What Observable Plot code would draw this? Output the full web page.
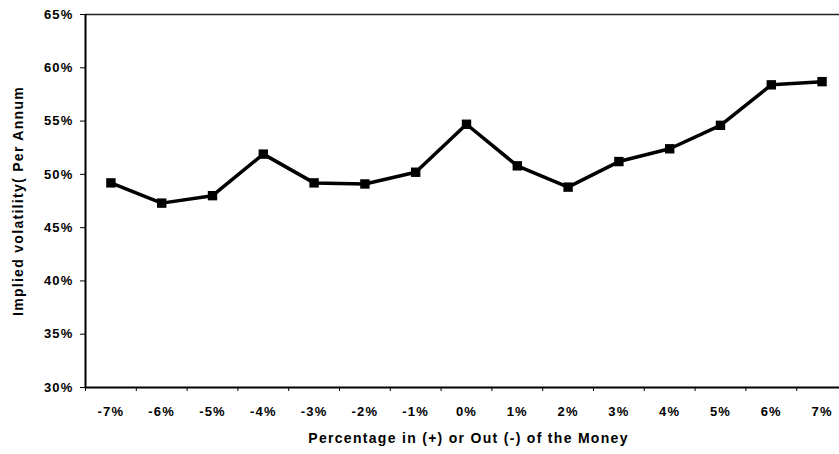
<!DOCTYPE html>
<html>
<head>
<meta charset="utf-8">
<script src="https://cdn.jsdelivr.net/npm/d3@7"></script>
<script src="https://cdn.jsdelivr.net/npm/@observablehq/plot@0.6"></script>
<style>
  html, body { margin: 0; padding: 0; background: #fff; }
</style>
</head>
<body>
<div id="chart"></div>
<script>
// Moneyness (% in (+) or out (-) of the money)
const moneyness = [-7, -6, -5, -4, -3, -2, -1, 0, 1, 2, 3, 4, 5, 6, 7];
// Implied volatility (% per annum)
const impliedVol = [49.2, 47.3, 48.0, 51.9, 49.2, 49.1, 50.2, 54.7, 50.8, 48.8, 51.2, 52.4, 54.6, 58.4, 58.7];
// Y tick values
const yTicks = [30, 35, 40, 45, 50, 55, 60, 65];
const xTitle = "Percentage in (+) or Out (-) of the Money";
const yTitle = "Implied volatility( Per Annum";

const data = moneyness.map((m, i) => ({m, v: impliedVol[i]}));
const bandEdges = moneyness.map(m => m - 0.5);

const chart = Plot.plot({
  width: 839,
  height: 454,
  marginLeft: 85,
  marginRight: 0,
  marginTop: 14,
  marginBottom: 67,
  style: {fontFamily: "'Liberation Sans', Arial, sans-serif", fontSize: "13px", fontWeight: "bold", letterSpacing: "1.2px", color: "#000", background: "#fff"},
  x: {domain: [-7.5, 7.343]},
  y: {domain: [30, 65]},
  marks: [
    Plot.axisY({ticks: yTicks, tickFormat: d => d + "%", tickSize: 5, tickPadding: 7, label: null, strokeWidth: 1, fontSize: 13}),
    Plot.axisX({ticks: bandEdges, tickFormat: () => "", tickSize: 4, label: null}),
    Plot.axisX({ticks: moneyness, tickFormat: d => d + "%", tickSize: 0, tickPadding: 19, label: null, fontSize: 13}),
    Plot.ruleY([65], {stroke: "#222", strokeWidth: 1.5}),
    Plot.ruleY([30], {stroke: "#000", strokeWidth: 2}),
    Plot.ruleX([-7.5], {stroke: "#000", strokeWidth: 2}),
    Plot.line(data, {x: "m", y: "v", stroke: "#000", strokeWidth: 3.5}),
    Plot.dot(data, {x: "m", y: "v", symbol: "square", r: 5.3, fill: "#000", stroke: "none"}),
    Plot.text([xTitle], {frameAnchor: "bottom", textAnchor: "middle", lineAnchor: "middle", dy: 51, dx: 6, text: d => d, fontWeight: "bold", fontSize: 14}),
    Plot.text([yTitle], {frameAnchor: "left", textAnchor: "middle", lineAnchor: "middle", dx: -67, rotate: -90, text: d => d, fontWeight: "bold", fontSize: 14})
  ]
});
chart.querySelectorAll("text").forEach(t => {
  if (t.textContent === xTitle || t.textContent === yTitle) t.style.letterSpacing = "1.3px";
});
document.getElementById("chart").appendChild(chart);
</script>
</body>
</html>
